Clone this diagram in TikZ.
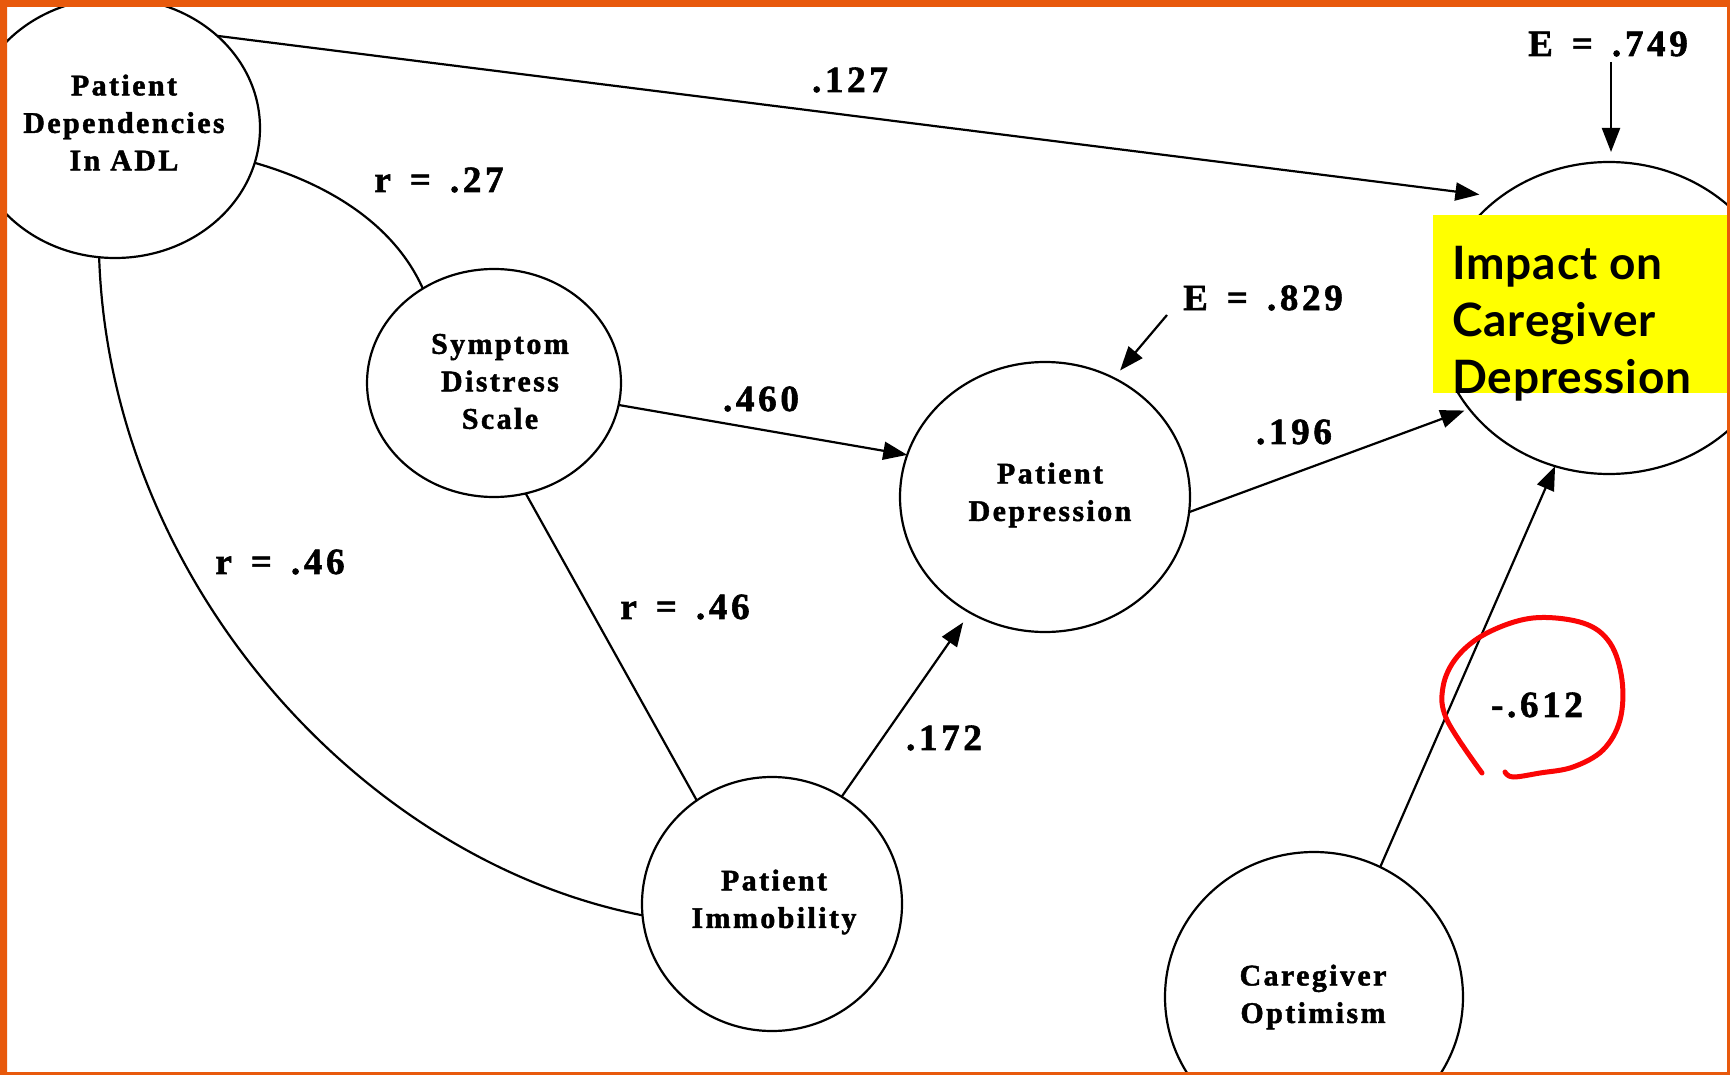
\documentclass[tikz,border=0pt]{standalone}
\usepackage{fontspec}
\setmainfont{Liberation Serif}
\newfontfamily\dfont[LetterSpace=8,FakeBold=1.5]{Liberation Serif}
\newfontfamily\cfont[LetterSpace=10,FakeBold=1.5]{Liberation Serif}
\newfontfamily\latofont[LetterSpace=2]{Lato}
\usetikzlibrary{shapes.geometric,arrows.meta,calc}
\definecolor{frameorange}{RGB}{232,89,12}
\definecolor{hlyellow}{RGB}{255,255,0}
\definecolor{markred}{RGB}{250,5,5}
\begin{document}
\begin{tikzpicture}[x=1pt,y=-1pt,
  var/.style={ellipse, draw, line width=2.2pt, inner sep=0pt, outer sep=0pt},
  vtext/.style={align=center, inner sep=0pt, font=\dfont\bfseries\fontsize{30}{37.5}\selectfont},
  coef/.style={inner sep=0pt, font=\cfont\bfseries\fontsize{37}{40}\selectfont},
  link/.style={line width=2.2pt},
  effect/.style={line width=2.2pt, -{Triangle[length=24pt,width=18pt]}},
]
\useasboundingbox (0,0) rectangle (1730,1075);
\fill[white] (0,0) rectangle (1730,1075);
\begin{scope}
\clip (7,7) rectangle (1727,1072);
% variables
\node[var, minimum width=290pt, minimum height=260pt] (pdadl) at (115,128) {};
\node[vtext] (pdadlT) at (124,122.5) {Patient\\Dependencies\\In ADL};
\node[var, minimum width=254pt, minimum height=228pt] (sds) at (494,383) {};
\node[vtext] (sdsT) at (500,381.5) {Symptom\\Distress\\Scale};
\node[var, minimum width=290pt, minimum height=270pt] (pd) at (1045,497) {};
\node[vtext] (pdT) at (1050,495) {Patient\\Depression};
\node[var, minimum width=260pt, minimum height=254pt] (pi) at (772,904) {};
\node[vtext] (piT) at (774,902) {Patient\\Immobility};
\node[var, minimum width=298pt, minimum height=290pt] (co) at (1314,997) {};
\node[vtext] (coT) at (1313,997) {Caregiver\\Optimism};
\node[var, minimum width=344pt, minimum height=312pt] (icd) at (1609,318) {};
\node[fill=hlyellow, anchor=north west, minimum width=300pt, minimum height=178pt, inner sep=0pt] (icdbox) at (1433,215) {};
\node[anchor=base west, inner sep=0pt, align=left, font=\latofont\bfseries\fontsize{46}{57}\selectfont] (icdT) at (1452,393) {Impact on\\Caregiver\\Depression};
% correlations
\draw[link] (pdadl.346) .. controls (325,183) and (393,222) .. (sds.127);
\draw[link] (pdadl.263) .. controls (110,580) and (360,860) .. (pi.185);
\draw[link] (sds.286) -- (pi.126);
% paths
\draw[effect, shorten >=21pt] (pdadl.42) -- (icd.132);
\draw[effect] (sds.350) -- (pd.163);
\draw[effect, shorten >=5pt] (pd.354) -- (icd.213);
\draw[effect] (co.63) -- (icd.250);
\draw[effect, shorten >=12pt] (pi.57) -- (pd.237);
\coordinate (e829) at (1167,315);
\draw[effect, shorten >=10pt] (e829) -- (pd.60);
\coordinate (e749) at (1611,62);
\draw[effect, shorten >=10pt] (e749) -- (e749 |- icd.north);
% labels
\node[coef] (l127) at (850,80) {.127};
\node[coef] (l27) at (439,180) {r\hspace{19pt}=\hspace{19pt}.27};
\node[coef] (l46a) at (280,562) {r\hspace{19pt}=\hspace{19pt}.46};
\node[coef] (l46b) at (685,607) {r\hspace{19pt}=\hspace{19pt}.46};
\node[coef] (l460) at (761,399) {.460};
\node[coef] (l172) at (944,738) {.172};
\node[coef] (l196) at (1294,432) {.196};
\node[coef] (l829) at (1263,298) {E\hspace{19pt}=\hspace{19pt}.829};
\node[coef] (l749) at (1608,44) {E\hspace{19pt}=\hspace{19pt}.749};
\node[coef] (l612) at (1537,705) {-.612};
% hand-drawn red mark
\draw[markred, line width=5pt, line cap=round, line join=round] plot[smooth, tension=0.6] coordinates {(1482,773) (1447,720) (1443,687) (1457,657) (1487,633) (1533,618) (1583,623) (1610,643) (1622,680) (1620,720) (1603,750) (1573,767) (1540,773) (1513,777) (1505,772)};
\end{scope}
\fill[frameorange, even odd rule] (0,0) rectangle (1730,1075) (7,7) rectangle (1727,1072);
\end{tikzpicture}
\end{document}
